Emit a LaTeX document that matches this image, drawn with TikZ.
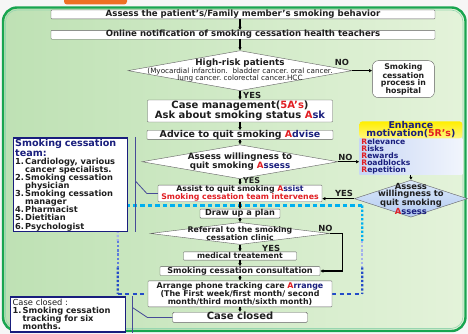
\documentclass[tikz,border=0pt]{standalone}
\usepackage{fontspec}
\setmainfont{DejaVu Sans}
\usetikzlibrary{arrows.meta,positioning,shapes,calc,backgrounds}
\definecolor{redA}{RGB}{225,30,35}
\definecolor{navy}{RGB}{25,30,125}
\definecolor{txt}{RGB}{30,30,30}
\definecolor{boxline}{RGB}{95,95,95}
\definecolor{frameG}{RGB}{25,165,80}
\definecolor{bgL}{RGB}{190,225,180}
\definecolor{bgR}{RGB}{228,243,218}
\definecolor{tabO}{RGB}{238,112,35}
\definecolor{dashC}{RGB}{0,176,240}
\definecolor{dashL}{RGB}{165,178,235}
\definecolor{dashM}{RGB}{95,125,220}
\definecolor{dashB}{RGB}{35,75,200}
\definecolor{rBlue}{RGB}{200,215,245}
\definecolor{rYel}{RGB}{255,238,0}
\definecolor{dBlueT}{RGB}{218,232,250}
\definecolor{dBlueB}{RGB}{180,203,240}
\newcommand{\keyw}[2]{\textcolor{redA}{#1}\textcolor{navy}{#2}}
\newcommand{\itm}[1]{\makebox[10pt][l]{#1}}

\begin{document}
\begin{tikzpicture}[x=1pt,y=1pt,>={Latex[length=3.2pt,width=3.6pt]}]
	\tikzstyle{rect}=[draw=boxline, fill=white, rectangle, rounded corners=0.8pt, text=txt, inner xsep=2pt, inner ysep=0.4pt, text height=6.2pt, text depth=1.9pt, font=\bfseries\fontsize{8.6}{9}\selectfont]
	\tikzstyle{rect_m}=[draw=boxline, fill=white, rectangle, rounded corners=0.8pt, text=txt, align=center, inner sep=0.5pt, font=\bfseries\fontsize{7.8}{8}\selectfont]
	\tikzstyle{dia}=[draw=boxline, fill=white, diamond, inner sep=0pt]
	\tikzstyle{dia_t}=[text=txt, align=center, inner sep=0pt, font=\bfseries\fontsize{8.7}{9}\selectfont]
	\tikzstyle{yn}=[text=txt, inner sep=0pt, font=\bfseries\fontsize{8.4}{9}\selectfont]
	\tikzstyle{side}=[draw=navy, line width=1.2pt, fill=white, rectangle, text=txt, align=left, inner xsep=2pt, inner ysep=1pt, font=\bfseries\fontsize{8.3}{8.1}\selectfont]
	\tikzstyle{brace}=[draw=navy!80, line width=0.8pt]
	\tikzstyle{arr}=[->, line width=1.1pt]

	\useasboundingbox (0,0) rectangle (468,-334);

	\node[rect, minimum width=384pt] (assess) at (243,-14.5) {Assess the patient's/Family member's smoking behavior};
	\node[rect, minimum width=384pt] (online) [below=11pt of assess] {Online notification of smoking cessation health teachers};
	\node[dia, minimum width=224pt, minimum height=40pt, xshift=-3pt, label={[dia_t, font=\mdseries\fontsize{7.2}{7.4}\selectfont]center:{{\bfseries\fontsize{8.8}{7.4}\selectfont High-risk patients}\\(Myocardial infarction.\ \ bladder cancer.\ oral cancer.\\lung cancer.\ colorectal cancer.HCC}}] (risk) [below=11pt of online] {};
	\node[rect_m, minimum width=185pt, minimum height=22pt, font=\bfseries\fontsize{10}{9.8}\selectfont] (case) [below=9pt of risk] {Case management(\textcolor{redA}{5A's})\\Ask about smoking status \keyw{A}{sk}};
	\node[rect, minimum width=186pt, font=\bfseries\fontsize{9.4}{9}\selectfont] (advice) [below=8pt of case] {Advice to quit smoking \keyw{A}{dvise}};
	\node[dia, minimum width=196pt, minimum height=34pt, label={[dia_t]center:{Assess willingness to\\quit smoking \keyw{A}{ssess}}}] (willing) [below=5pt of advice] {};
	\node[rect_m, minimum width=164pt, minimum height=16pt] (assist) [below=6pt of willing] {Assist to quit smoking \keyw{A}{ssist}\\\textcolor{redA}{Smoking cessation team intervenes}};
	\node[rect, minimum width=80pt, font=\bfseries\fontsize{8.2}{9}\selectfont] (plan) [below=7pt of assist] {Draw up a plan};
	\node[dia, minimum width=179pt, minimum height=22pt, label={[dia_t, font=\bfseries\fontsize{7.8}{7.6}\selectfont]center:{Referral to the smoking\\cessation clinic}}] (refer) [below=4pt of plan] {};
	\node[rect, minimum width=113pt, text height=5.8pt, text depth=1.7pt, font=\bfseries\fontsize{7.7}{8}\selectfont] (medical) [below=7pt of refer] {medical treatement};
	\node[rect, minimum width=160pt, font=\bfseries\fontsize{8.1}{9}\selectfont] (consult) [below=6pt of medical] {Smoking cessation consultation};
	\node[rect_m, minimum width=184pt, minimum height=26pt, font=\bfseries\fontsize{7.9}{7.8}\selectfont] (arrange) [below=5pt of consult] {Arrange phone tracking care \keyw{A}{rrange}\\(The First week/first month/ second\\month/third month/sixth month)};
	\node[rect, minimum width=135pt, rounded corners=1.5pt, text height=7.3pt, text depth=2.2pt, font=\bfseries\fontsize{10}{10}\selectfont] (closed) [below=5pt of arrange] {Case closed};

	\node[rect_m, minimum width=62pt, minimum height=37pt, rounded corners=6pt, font=\bfseries\fontsize{7.8}{7.6}\selectfont] (hosp) [right=20pt of risk, yshift=-8.5pt] {Smoking\\cessation\\process in\\hospital};
	\node[minimum width=103pt, minimum height=36pt, text width=99pt, inner xsep=2pt, inner ysep=0pt, align=left, left color=rBlue, right color=rBlue!25!white, font=\bfseries\fontsize{7.6}{7}\selectfont] (reasons) [right=21pt of willing, yshift=5pt] {\keyw{R}{elevance}\\\keyw{R}{isks}\\\keyw{R}{ewards}\\\keyw{R}{oadblocks}\\\keyw{R}{epetition}};
	\node[minimum width=103pt, minimum height=17pt, inner sep=0pt, align=center, rounded corners=3pt, top color=rYel, bottom color=rYel!50!white, text=navy, font=\bfseries\fontsize{9.4}{8}\selectfont] (motiv) [above=0pt of reasons] {Enhance\\motivation(\textcolor{redA}{5R's})};
	\node[dia, minimum width=113pt, minimum height=37pt, top color=dBlueT, bottom color=dBlueB, label={[dia_t, font=\bfseries\fontsize{8.4}{6.9}\selectfont]center:{Assess\\willingness to\\quit smoking\\\keyw{A}{ssess}}}] (willing2) [below=5pt of reasons] {};

	\node[side, text width=110pt, minimum height=89pt] (team) [left=30pt of assist, yshift=8.5pt] {{\color{navy}\fontsize{9.6}{8.1}\selectfont Smoking cessation}\\{\color{navy}\fontsize{9.6}{8.1}\selectfont team:}\\\itm{1.}Cardiology, various\\\itm{}cancer specialists.\\\itm{2.}Smoking cessation\\\itm{}physician\\\itm{3.}Smoking cessation\\\itm{}manager\\\itm{4.}Pharmacist\\\itm{5.}Dietitian\\\itm{6.}Psychologist};
	\node[side, text width=111pt, minimum height=35pt] (endbox) [left=46pt of closed, yshift=3pt] {{\mdseries Case closed :}\\\itm{1.}Smoking cessation\\\itm{}tracking for six\\\itm{}months.};

	\coordinate[shift={(8pt,0)}] (t1) at (team.north east);
	\coordinate[shift={(8pt,0)}] (t2) at (team.south east);
	\coordinate[shift={(-11pt,0)}] (t4) at (assist.west);
	\coordinate[shift={(0,12pt)}] (t3) at (t1 |- t4);
	\draw[brace] (t1) -- (t2);
	\draw[brace] (t3) -- (t4) -- (assist.west);

	\coordinate[shift={(6pt,0)}] (e1) at (endbox.north east);
	\coordinate[shift={(6pt,0)}] (e2) at (endbox.south east);
	\coordinate[shift={(-25pt,0)}] (e4) at (closed.west);
	\coordinate[shift={(0,10pt)}] (e3) at (e1 |- e4);
	\draw[brace] (e1) -- (e2);
	\draw[brace] (e3) -- (e4) -- (closed.west);

	\draw[arr] (assess.south -| risk) -- (online.north -| risk);
	\draw[arr] (online.south -| risk) -- (risk);
	\draw[arr] (risk) -- (case);
	\draw[arr] (case) -- (advice);
	\draw[arr] (advice) -- (willing);
	\draw[arr] (willing) -- (assist);
	\draw[arr] (assist) -- (plan);
	\draw[arr] (plan) -- (refer);
	\draw[arr] (refer) -- (medical);
	\draw[arr] (medical) -- (consult);
	\draw[arr] (consult) -- (arrange);
	\draw[arr] (arrange) -- (closed);
	\draw[arr] (risk.east) -- (risk.east -| hosp.west);
	\draw[arr] (willing.east) -- (willing.east -| reasons.west);
	\draw[arr] (reasons) -- (willing2);
	\draw[arr] (willing2.west) -- (willing2.west -| assist.east);
	\coordinate[shift={(13pt,0)}] (n1) at (refer.east);
	\draw[arr] (refer.east) -- (n1) |- (consult.east);

	\node[yn] (no1) [above left=5pt and 3pt of risk.east] {NO};
	\node[yn] (yes1) [below right=1.5pt and 3pt of risk.south] {YES};
	\node[yn] (no2) [above right=1pt and 0pt of willing.east] {NO};
	\node[yn, font=\bfseries\fontsize{8}{8}\selectfont] (yes2) [below right=-1.2pt and 3pt of willing.south] {YES};
	\node[yn] (yes3) [above left=2pt and 1pt of willing2.west] {YES};
	\node[yn] (no4) [above left=2pt and -3pt of refer.east] {NO};
	\node[yn] (yes4) [below right=0pt and 22pt of refer.south] {YES};

	\begin{scope}[on background layer]
		\fill[gray!7] (0,0) rectangle (468,-334);
		\fill[tabO, rounded corners=3pt] (64,5) rectangle (127,-4.5);
		\draw[frameG, line width=2.4pt, rounded corners=14pt, left color=bgL, right color=bgR] (3,-7.5) rectangle (465.5,-331);
		\draw[frameG!45!white, line width=0.6pt, rounded corners=12pt] (5.5,-10) rectangle (463,-328.5);
		\coordinate (dtop) at ($(assist.south)!0.5!(plan.north)$);
		\coordinate[shift={(-30pt,0)}] (dl) at (arrange.west |- dtop);
		\coordinate[shift={(30pt,0)}] (dr) at (arrange.east |- dtop);
		\coordinate[shift={(-30pt,0)}] (bl) at (arrange.west);
		\coordinate[shift={(30pt,0)}] (br) at (arrange.east);
		\draw[dashC, line width=2.3pt, dash pattern=on 4.5pt off 3pt] (dl) -- (dr);
		\foreach \a/\b/\c in {0/0.4/dashC, 0.4/0.7/dashL, 0.7/1/dashB}
			\draw[\c, line width=2.3pt, dash pattern=on 2.3pt off 1.9pt] ($(dr)!\a!(br)$) -- ($(dr)!\b!(br)$);
		\foreach \a/\b/\c in {0/0.4/dashL, 0.4/0.7/dashM, 0.7/1/dashB}
			\draw[\c, line width=2.3pt, dash pattern=on 2.3pt off 1.9pt] ($(dl)!\a!(bl)$) -- ($(dl)!\b!(bl)$);
		\draw[dashB, line width=2.3pt, dash pattern=on 4pt off 3.5pt] (bl) -- (arrange.west);
		\draw[dashB, line width=2.3pt, dash pattern=on 4pt off 3.5pt] (arrange.east) -- (br);
	\end{scope}
\end{tikzpicture}
\end{document}
